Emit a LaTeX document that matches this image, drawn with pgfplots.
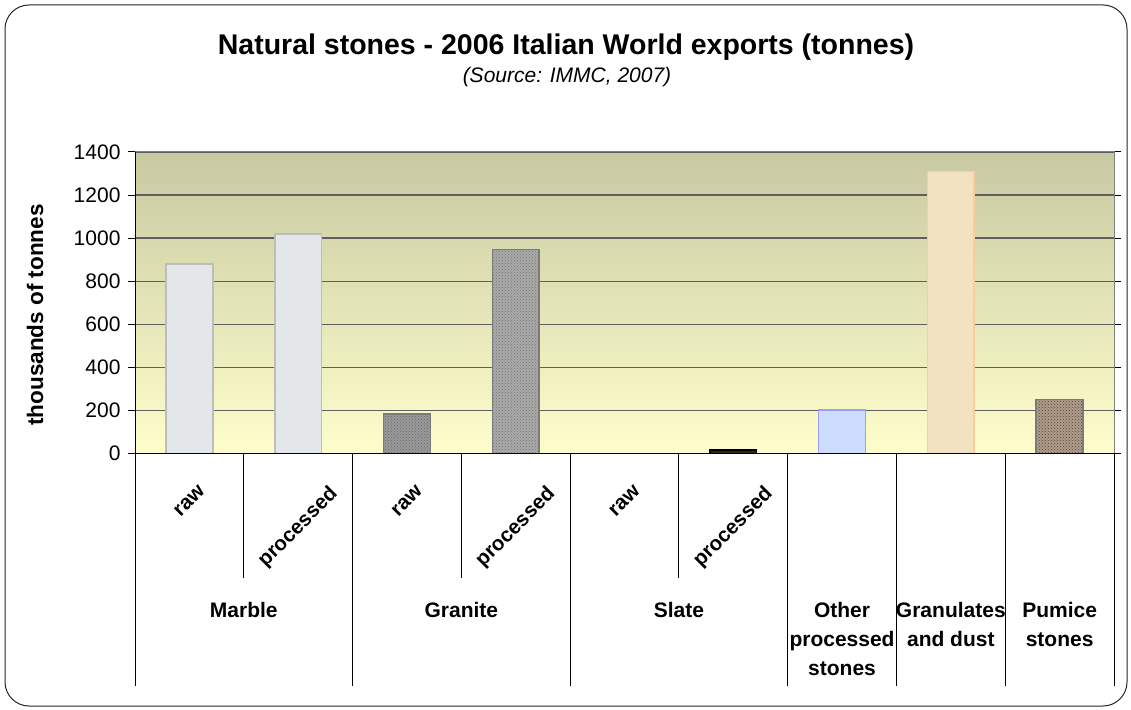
\documentclass[border=0pt]{standalone}
\usepackage{graphicx}
\usepackage{pgfplots}
\pgfplotsset{compat=1.18}
\usepackage{fontspec}
\setmainfont{Liberation Sans}
\usetikzlibrary{patterns}
\definecolor{bgtop}{HTML}{C8C9A1}
\definecolor{bgbot}{HTML}{FEFECC}
\definecolor{gridc}{HTML}{5F5F5F}
\definecolor{marblef}{HTML}{E4E7EA}
\definecolor{marbled}{HTML}{BDBDBD}
\definecolor{granrf}{HTML}{9A9A9A}
\definecolor{granpf}{HTML}{AAAAAA}
\definecolor{grand}{HTML}{7A7A7A}
\definecolor{slatef}{HTML}{3A2314}
\definecolor{otherf}{HTML}{CCDDFF}
\definecolor{otherd}{HTML}{9C9CFF}
\definecolor{granuf}{HTML}{F2E2C2}
\definecolor{granud}{HTML}{FFCC99}
\definecolor{pumf}{HTML}{AD9E90}
\begin{document}
\begin{tikzpicture}[x=1pt,y=1pt]
\path[use as bounding box] (0,0) rectangle (1131,709);
\draw[black!85, line width=1pt, rounded corners=24pt] (5,3) rectangle (1127,704);
\node[font=\fontsize{28.5}{32}\selectfont\bfseries] at (566,662) {Natural stones - 2006 Italian World exports (tonnes)};
\node[font=\fontsize{21}{25}\selectfont\itshape] at (567,632) {(Source: IMMC, 2007)};
\node[rotate=90, font=\fontsize{22.5}{26}\selectfont\bfseries] at (35,394) {thousands of tonnes};
\tikzset{
  sub/.style={anchor=north, inner sep=0pt, font=\fontsize{20.5}{24}\selectfont\bfseries, yshift=-31pt},
  grp/.style={anchor=north, inner sep=0pt, align=center, font=\fontsize{21}{29}\selectfont\bfseries, yshift=-149pt},
  sepa/.style={black, line width=0.8pt},
}
\begin{axis}[
  at={(135pt,255.7pt)}, anchor=south west,
  scale only axis, width=979pt, height=301.3pt,
  xmin=0, xmax=9, ymin=0, ymax=1400,
  xtick=\empty, ytick={0,200,400,600,800,1000,1200,1400},
  ymajorgrids, grid style={gridc, line width=1.2pt},
  axis background/.style={top color=bgtop, bottom color=bgbot},
  axis line style={draw=black!50, line width=1pt},
  tick align=outside, major tick length=7pt,
  ytick style={black, line width=1pt},
  yticklabel style={font=\fontsize{21}{25}\selectfont, xshift=-4pt},
  /pgf/number format/assume math mode=true,
  /pgf/number format/1000 sep={},
  clip=false,
]
\addplot[ybar, bar width=0.43, bar shift=0pt, fill=marblef, draw=marbled, line width=1.5pt] coordinates {(0.5,880)};
\addplot[ybar, bar width=0.43, bar shift=0pt, fill=marblef, draw=marbled, line width=1.5pt] coordinates {(1.5,1018)};
\addplot[ybar, bar width=0.43, bar shift=0pt, fill=granrf, draw=grand, line width=1.5pt, postaction={pattern=crosshatch dots, pattern color=black!60}] coordinates {(2.5,183)};
\addplot[ybar, bar width=0.43, bar shift=0pt, fill=granpf, draw=grand, line width=1.5pt, postaction={pattern=crosshatch dots, pattern color=black!55}] coordinates {(3.5,946)};
\addplot[ybar, bar width=0.43, bar shift=0pt, draw=none, fill=none] coordinates {(4.5,0)};
\addplot[ybar, bar width=0.43, bar shift=0pt, fill=slatef, draw=black, line width=1.5pt] coordinates {(5.5,15)};
\addplot[ybar, bar width=0.43, bar shift=0pt, fill=otherf, draw=otherd, line width=1.5pt] coordinates {(6.5,201)};
\addplot[ybar, bar width=0.43, bar shift=0pt, fill=granuf, draw=granud, line width=1.5pt] coordinates {(7.5,1309)};
\addplot[ybar, bar width=0.43, bar shift=0pt, fill=pumf, draw=grand, line width=1.5pt, postaction={pattern=crosshatch dots, pattern color=brown!50!black}] coordinates {(8.5,249)};
\draw[black, line width=1pt] (rel axis cs:0,1) -- (rel axis cs:0,0) -- (rel axis cs:1,0);
\draw[sepa] (axis cs:1,0) -- ++(0,-124.7pt);
\draw[sepa] (axis cs:3,0) -- ++(0,-124.7pt);
\draw[sepa] (axis cs:5,0) -- ++(0,-124.7pt);
\draw[sepa] (axis cs:0,0) -- ++(0,-232.7pt);
\draw[sepa] (axis cs:2,0) -- ++(0,-232.7pt);
\draw[sepa] (axis cs:4,0) -- ++(0,-232.7pt);
\draw[sepa] (axis cs:6,0) -- ++(0,-232.7pt);
\draw[sepa] (axis cs:7,0) -- ++(0,-232.7pt);
\draw[sepa] (axis cs:8,0) -- ++(0,-232.7pt);
\draw[sepa] (axis cs:9,0) -- ++(0,-232.7pt);
\node[sub] at (axis cs:0.5,0) {\rotatebox{45}{raw}};
\node[sub] at (axis cs:1.5,0) {\rotatebox{45}{processed}};
\node[sub] at (axis cs:2.5,0) {\rotatebox{45}{raw}};
\node[sub] at (axis cs:3.5,0) {\rotatebox{45}{processed}};
\node[sub] at (axis cs:4.5,0) {\rotatebox{45}{raw}};
\node[sub] at (axis cs:5.5,0) {\rotatebox{45}{processed}};
\node[grp] at (axis cs:1,0) {Marble};
\node[grp] at (axis cs:3,0) {Granite};
\node[grp] at (axis cs:5,0) {Slate};
\node[grp] at (axis cs:6.5,0) {Other\\processed\\stones};
\node[grp] at (axis cs:7.5,0) {Granulates\\and dust};
\node[grp] at (axis cs:8.5,0) {Pumice\\stones};
\end{axis}
\end{tikzpicture}
\end{document}
